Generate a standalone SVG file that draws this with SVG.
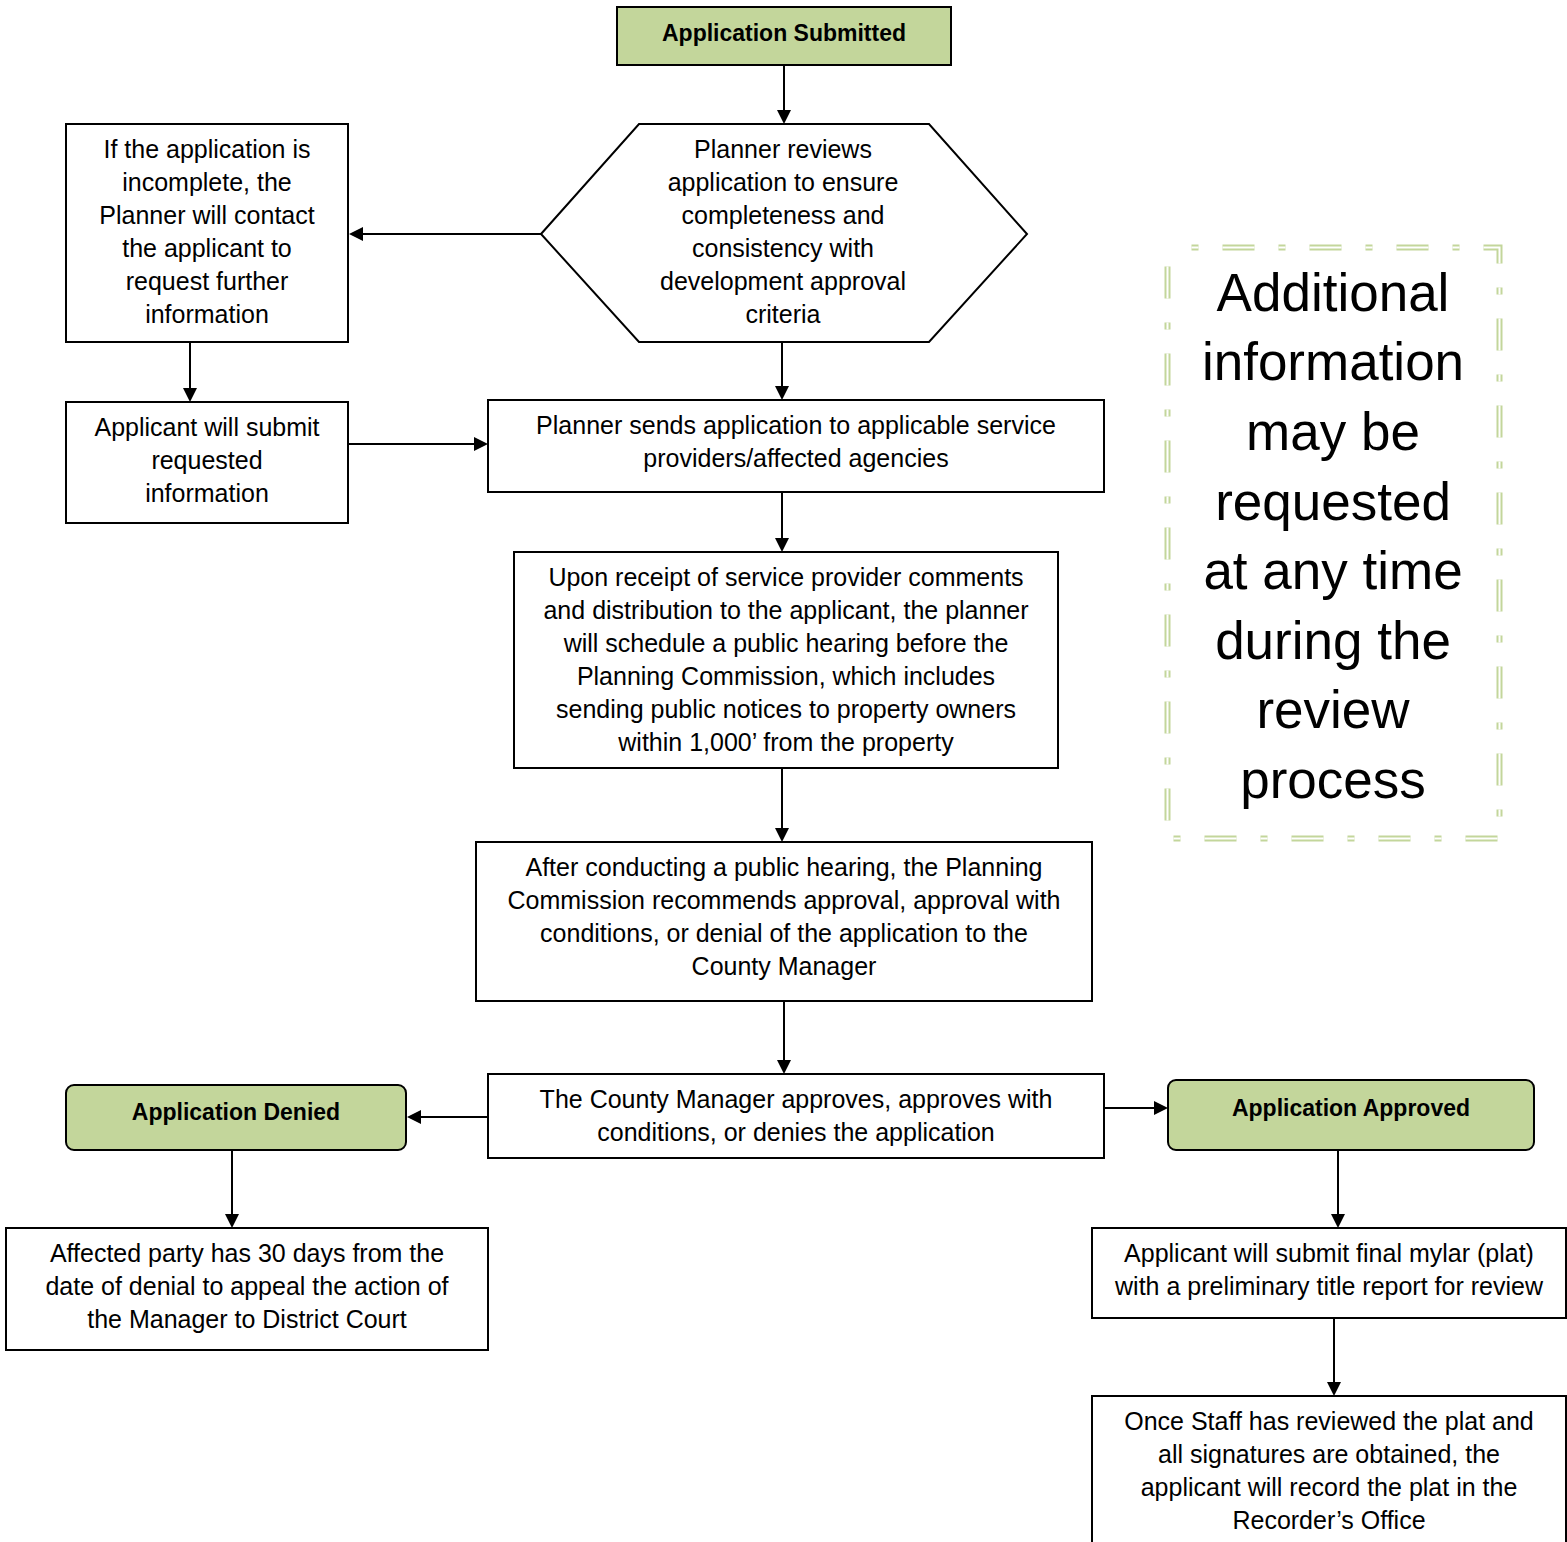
<svg xmlns="http://www.w3.org/2000/svg" width="1567" height="1542" viewBox="0 0 1567 1542">
<defs>
<style>
.box{fill:#fff;stroke:#000;stroke-width:2}
.green{fill:#c3d69b;stroke:#000;stroke-width:2}
.t{font-family:"Liberation Sans",Arial,sans-serif;font-size:25px;fill:#000;text-anchor:middle}
.tb{font-family:"Liberation Sans",Arial,sans-serif;font-size:23px;font-weight:bold;fill:#000;text-anchor:middle}
.big{font-family:"Liberation Sans",Arial,sans-serif;font-size:53px;fill:#000;text-anchor:middle}
.ln{stroke:#000;stroke-width:2;fill:none}
.dash{fill:none;stroke-dasharray:32 24 7 24;stroke-dashoffset:32}
</style>
</defs>
<rect width="1567" height="1542" fill="#fff"/>

<g id="connectors">
<line class="ln" x1="784" y1="65" x2="784" y2="111"/>
<path d="M777,110 L791,110 L784,124 z" fill="#000"/>
<line class="ln" x1="541" y1="234" x2="362" y2="234"/>
<path d="M349,234 L363,227 L363,241 z" fill="#000"/>
<line class="ln" x1="190" y1="342" x2="190" y2="389"/>
<path d="M183,388 L197,388 L190,402 z" fill="#000"/>
<line class="ln" x1="348" y1="444" x2="475" y2="444"/>
<path d="M474,437 L488,444 L474,451 z" fill="#000"/>
<line class="ln" x1="782" y1="342" x2="782" y2="387"/>
<path d="M775,386 L789,386 L782,400 z" fill="#000"/>
<line class="ln" x1="782" y1="492" x2="782" y2="539"/>
<path d="M775,538 L789,538 L782,552 z" fill="#000"/>
<line class="ln" x1="782" y1="768" x2="782" y2="829"/>
<path d="M775,828 L789,828 L782,842 z" fill="#000"/>
<line class="ln" x1="784" y1="1001" x2="784" y2="1061"/>
<path d="M777,1060 L791,1060 L784,1074 z" fill="#000"/>
<line class="ln" x1="488" y1="1117" x2="420" y2="1117"/>
<path d="M407,1117 L421,1110 L421,1124 z" fill="#000"/>
<line class="ln" x1="1104" y1="1108" x2="1155" y2="1108"/>
<path d="M1154,1101 L1168,1108 L1154,1115 z" fill="#000"/>
<line class="ln" x1="232" y1="1150" x2="232" y2="1215"/>
<path d="M225,1214 L239,1214 L232,1228 z" fill="#000"/>
<line class="ln" x1="1338" y1="1150" x2="1338" y2="1215"/>
<path d="M1331,1214 L1345,1214 L1338,1228 z" fill="#000"/>
<line class="ln" x1="1334" y1="1318" x2="1334" y2="1383"/>
<path d="M1327,1382 L1341,1382 L1334,1396 z" fill="#000"/>
</g>

<g id="n-submitted">
<rect class="green" x="617" y="7" width="334" height="58"/>
<text class="tb" x="784" y="41">Application Submitted</text>
</g>

<g id="n-review">
<polygon class="box" points="541,234 639,124 929,124 1027,234 929,342 639,342"/>
<text class="t" x="783" y="158">Planner reviews</text>
<text class="t" x="783" y="191">application to ensure</text>
<text class="t" x="783" y="224">completeness and</text>
<text class="t" x="783" y="257">consistency with</text>
<text class="t" x="783" y="290">development approval</text>
<text class="t" x="783" y="323">criteria</text>
</g>

<g id="n-incomplete">
<rect class="box" x="66" y="124" width="282" height="218"/>
<text class="t" x="207" y="158">If the application is</text>
<text class="t" x="207" y="191">incomplete, the</text>
<text class="t" x="207" y="224">Planner will contact</text>
<text class="t" x="207" y="257">the applicant to</text>
<text class="t" x="207" y="290">request further</text>
<text class="t" x="207" y="323">information</text>
</g>

<g id="n-resubmit">
<rect class="box" x="66" y="402" width="282" height="121"/>
<text class="t" x="207" y="436">Applicant will submit</text>
<text class="t" x="207" y="469">requested</text>
<text class="t" x="207" y="502">information</text>
</g>

<g id="n-sends">
<rect class="box" x="488" y="400" width="616" height="92"/>
<text class="t" x="796" y="434">Planner sends application to applicable service</text>
<text class="t" x="796" y="467">providers/affected agencies</text>
</g>

<g id="n-receipt">
<rect class="box" x="514" y="552" width="544" height="216"/>
<text class="t" x="786" y="586">Upon receipt of service provider comments</text>
<text class="t" x="786" y="619">and distribution to the applicant, the planner</text>
<text class="t" x="786" y="652">will schedule a public hearing before the</text>
<text class="t" x="786" y="685">Planning Commission, which includes</text>
<text class="t" x="786" y="718">sending public notices to property owners</text>
<text class="t" x="786" y="751">within 1,000’ from the property</text>
</g>

<g id="n-hearing">
<rect class="box" x="476" y="842" width="616" height="159"/>
<text class="t" x="784" y="876">After conducting a public hearing, the Planning</text>
<text class="t" x="784" y="909">Commission recommends approval, approval with</text>
<text class="t" x="784" y="942">conditions, or denial of the application to the</text>
<text class="t" x="784" y="975">County Manager</text>
</g>

<g id="n-manager">
<rect class="box" x="488" y="1074" width="616" height="84"/>
<text class="t" x="796" y="1108">The County Manager approves, approves with</text>
<text class="t" x="796" y="1141">conditions, or denies the application</text>
</g>

<g id="n-denied">
<rect class="green" x="66" y="1085" width="340" height="65" rx="8" ry="8"/>
<text class="tb" x="236" y="1120">Application Denied</text>
</g>

<g id="n-approved">
<rect class="green" x="1168" y="1080" width="366" height="70" rx="8" ry="8"/>
<text class="tb" x="1351" y="1116">Application Approved</text>
</g>

<g id="n-appeal">
<rect class="box" x="6" y="1228" width="482" height="122"/>
<text class="t" x="247" y="1262">Affected party has 30 days from the</text>
<text class="t" x="247" y="1295">date of denial to appeal the action of</text>
<text class="t" x="247" y="1328">the Manager to District Court</text>
</g>

<g id="n-mylar">
<rect class="box" x="1092" y="1228" width="474" height="90"/>
<text class="t" x="1329" y="1262">Applicant will submit final mylar (plat)</text>
<text class="t" x="1329" y="1295">with a preliminary title report for review</text>
</g>

<g id="n-record">
<rect class="box" x="1092" y="1396" width="474" height="160"/>
<text class="t" x="1329" y="1430">Once Staff has reviewed the plat and</text>
<text class="t" x="1329" y="1463">all signatures are obtained, the</text>
<text class="t" x="1329" y="1496">applicant will record the plat in the</text>
<text class="t" x="1329" y="1529">Recorder’s Office</text>
</g>

<g id="n-note">
<rect class="dash" x="1167.5" y="247.5" width="332" height="591" stroke="#c3d69b" stroke-width="6"/>
<rect class="dash" x="1167.5" y="247.5" width="332" height="591" stroke="#fff" stroke-width="2"/>
<text class="big" x="1333" y="311">Additional</text>
<text class="big" x="1333" y="380">information</text>
<text class="big" x="1333" y="450">may be</text>
<text class="big" x="1333" y="520">requested</text>
<text class="big" x="1333" y="589">at any time</text>
<text class="big" x="1333" y="659">during the</text>
<text class="big" x="1333" y="728">review</text>
<text class="big" x="1333" y="798">process</text>
</g>
</svg>
